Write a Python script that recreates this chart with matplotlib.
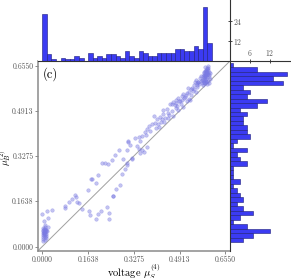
import matplotlib
matplotlib.use("Agg")
import matplotlib.pyplot as plt
import numpy as np

plt.rcParams['font.family'] = 'cmr10'
plt.rcParams['mathtext.fontset'] = 'cm'
plt.rcParams['axes.formatter.use_mathtext'] = True

# axis ticks (same on both axes)
tick_values = [0.0, 0.16375, 0.3275, 0.49125, 0.655]
tick_labels = ['0.0000', '0.1638', '0.3275', '0.4913', '0.6550']

# marginal histogram of x (37 bins, left to right)
x_bin_range = (0.0, 0.6065)
x_counts = [28, 4, 1, 0, 2, 1, 1, 3, 2, 0,
            5, 2, 3, 2, 4, 4, 3, 2, 6, 3,
            2, 6, 5, 3, 3, 5, 5, 5, 5, 7,
            7, 6, 6, 9, 7, 32, 11]

# marginal histogram of y (40 bins, bottom to top)
y_bin_range = (0.0157, 0.6655)
y_counts = [4, 7, 12, 5, 1, 3, 7, 4, 2, 4,
            3, 2, 1, 3, 1, 1, 1, 5, 3, 2,
            5, 1, 2, 6, 5, 5, 4, 4, 5, 3,
            8, 11, 5, 6, 4, 16, 13, 17, 8, 1]

# scatter points (mu_S^(4), mu_B^(2))
px = [0.004, 0.010, 0.002, 0.013, 0.003, 0.008, 0.012, 0.001, 0.006, 0.015,
      0.009, 0.002, 0.005, 0.007, 0.010, 0.012, 0.004, 0.008, 0.014, 0.001,
      0.006, 0.011, 0.003, 0.009, 0.011, 0.005, 0.000, 0.006,
      0.018, 0.020, 0.020, 0.017, 0.035,
      0.080, 0.080, 0.094, 0.105, 0.116, 0.120, 0.124, 0.133, 0.143,
      0.165, 0.168, 0.169, 0.175, 0.177, 0.192, 0.192,
      0.199, 0.201, 0.210, 0.214, 0.226,
      0.231, 0.235, 0.240, 0.240, 0.250, 0.252, 0.254, 0.261,
      0.265, 0.274, 0.278, 0.288, 0.286,
      0.296, 0.306, 0.304, 0.304, 0.302, 0.308,
      0.320, 0.314, 0.322, 0.332, 0.340,
      0.345, 0.345, 0.350, 0.350, 0.356, 0.356,
      0.362, 0.368, 0.374, 0.374, 0.370,
      0.383, 0.386, 0.392, 0.398, 0.404, 0.408,
      0.411, 0.415, 0.418, 0.422, 0.424,
      0.427, 0.431, 0.433, 0.439, 0.437,
      0.445, 0.451, 0.457, 0.448, 0.454,
      0.463, 0.463, 0.469, 0.469, 0.473,
      0.477, 0.480, 0.483, 0.487, 0.485, 0.489, 0.479,
      0.493, 0.499, 0.505, 0.496, 0.501, 0.503, 0.507,
      0.511, 0.517, 0.521, 0.523, 0.514, 0.519,
      0.529, 0.531, 0.535, 0.538, 0.526, 0.533,
      0.541, 0.546, 0.550, 0.552, 0.555, 0.544, 0.548, 0.553, 0.556,
      0.558, 0.564, 0.570, 0.561, 0.566, 0.568, 0.572,
      0.592, 0.594, 0.596, 0.593, 0.598, 0.595, 0.600, 0.592, 0.597, 0.601, 0.594,
      0.576, 0.580, 0.584, 0.588, 0.578, 0.586, 0.582,
      0.575, 0.579, 0.583, 0.587, 0.589, 0.581, 0.577,
      0.576, 0.580, 0.584, 0.588, 0.578, 0.582, 0.586, 0.589, 0.585, 0.579, 0.583, 0.587,
      0.581, 0.585, 0.588, 0.583, 0.587, 0.589]
py = [0.020, 0.024, 0.028, 0.030, 0.034, 0.036, 0.038, 0.041, 0.043, 0.045,
      0.047, 0.049, 0.050, 0.052, 0.053, 0.055, 0.056, 0.058, 0.059, 0.060,
      0.062, 0.063, 0.067, 0.069, 0.077, 0.093, 0.119, 0.048,
      0.057, 0.071, 0.102, 0.127, 0.132,
      0.146, 0.140, 0.162, 0.172, 0.188, 0.179, 0.162, 0.158, 0.134,
      0.205, 0.128, 0.113, 0.243, 0.245, 0.231, 0.101,
      0.258, 0.119, 0.128, 0.304, 0.304,
      0.142, 0.300, 0.122, 0.098, 0.312, 0.183, 0.181, 0.332,
      0.208, 0.348, 0.222, 0.315, 0.262,
      0.281, 0.377, 0.348, 0.303, 0.294, 0.383,
      0.318, 0.366, 0.322, 0.393, 0.365,
      0.395, 0.354, 0.339, 0.383, 0.401, 0.348,
      0.342, 0.416, 0.359, 0.425, 0.405,
      0.437, 0.419, 0.443, 0.472, 0.448, 0.430,
      0.460, 0.445, 0.432, 0.470, 0.452,
      0.460, 0.493, 0.478, 0.466, 0.450,
      0.496, 0.464, 0.514, 0.482, 0.475,
      0.516, 0.490, 0.523, 0.472, 0.511,
      0.500, 0.520, 0.508, 0.537, 0.495, 0.526, 0.531,
      0.528, 0.543, 0.552, 0.515, 0.530, 0.505, 0.538,
      0.540, 0.555, 0.575, 0.535, 0.548, 0.525,
      0.532, 0.571, 0.573, 0.564, 0.560, 0.548,
      0.583, 0.594, 0.559, 0.591, 0.585, 0.570, 0.602, 0.578, 0.596,
      0.597, 0.611, 0.603, 0.588, 0.598, 0.618, 0.592,
      0.645, 0.638, 0.630, 0.625, 0.620, 0.612, 0.606, 0.600, 0.592, 0.628, 0.652,
      0.586, 0.590, 0.594, 0.588, 0.597, 0.599, 0.592,
      0.603, 0.608, 0.612, 0.605, 0.614, 0.601, 0.615,
      0.618, 0.622, 0.626, 0.630, 0.628, 0.617, 0.620, 0.624, 0.632, 0.631, 0.619, 0.627,
      0.636, 0.640, 0.645, 0.648, 0.635, 0.642]

lim = (-0.0164, 0.6714)
bar_color = '#3b3bf2'
bar_edge = '#1c1c7a'
tick_color = '#555555'

fig = plt.figure(figsize=(2.91, 2.78), dpi=100)
left, bottom, width, height = 0.1296, 0.097, 0.6608, 0.6836
ax = fig.add_axes([left, bottom, width, height])
ax_top = fig.add_axes([left, bottom + height, width, 1 - bottom - height])
ax_right = fig.add_axes([left + width, bottom, 1 - left - width, height])

# main scatter
ax.plot(lim, lim, color='#a0a0a0', lw=0.7, zorder=1)
ax.scatter(px, py, s=6.5, color='#7a7ae2', alpha=0.45, linewidths=0.4,
           edgecolors='#7a7ae2', zorder=2)
ax.set_xlim(lim)
ax.set_ylim(lim)
ax.set_xticks(tick_values)
ax.set_xticklabels(tick_labels)
ax.set_yticks(tick_values)
ax.set_yticklabels(tick_labels)
ax.tick_params(labelsize=5.5, length=2, width=0.6, pad=1,
               colors='#777777', labelcolor=tick_color)
for side in ['top', 'right']:
    ax.spines[side].set_visible(False)
for side in ['left', 'bottom']:
    ax.spines[side].set_color('#8a8a8a')
    ax.spines[side].set_linewidth(1.1)
ax.set_xlabel(r'voltage $\mu_S^{(4)}$', fontsize=7.5)
ax.xaxis.set_label_coords(0.5, -0.058)
ax.set_ylabel(r'$\mu_B^{(2)}$', fontsize=7)
ax.yaxis.set_label_coords(-0.128, 0.49)
ax.text(0.026, 0.965, '(c)', transform=ax.transAxes, ha='left', va='top', fontsize=9)

# top marginal histogram
x_edges = np.linspace(x_bin_range[0], x_bin_range[1], len(x_counts) + 1)
ax_top.bar(x_edges[:-1], x_counts, width=np.diff(x_edges), align='edge',
           color=bar_color, edgecolor=bar_edge, linewidth=0.4)
ax_top.set_xlim(lim)
ax_top.set_ylim(0, 36.3)
ax_top.set_xticks([])
ax_top.yaxis.tick_right()
ax_top.set_yticks([12, 24])
ax_top.tick_params(axis='y', direction='inout', length=3, width=0.5, pad=1,
                   labelsize=5.5, labelcolor=tick_color)
for side in ['top', 'left']:
    ax_top.spines[side].set_visible(False)
for side in ['bottom', 'right']:
    ax_top.spines[side].set_linewidth(0.8)
    ax_top.spines[side].set_color('#333333')

# right marginal histogram
y_edges = np.linspace(y_bin_range[0], y_bin_range[1], len(y_counts) + 1)
ax_right.barh(y_edges[:-1], y_counts, height=np.diff(y_edges), align='edge',
              color=bar_color, edgecolor=bar_edge, linewidth=0.4)
ax_right.set_ylim(lim)
ax_right.set_xlim(0, 18.3)
ax_right.set_yticks([])
ax_right.xaxis.tick_top()
ax_right.set_xticks([6, 12])
ax_right.tick_params(axis='x', direction='inout', length=3, width=0.5, pad=1,
                     labelsize=5.5, labelcolor=tick_color)
for side in ['bottom', 'right']:
    ax_right.spines[side].set_visible(False)
for side in ['top', 'left']:
    ax_right.spines[side].set_linewidth(0.8)
    ax_right.spines[side].set_color('#333333')

fig.savefig('out.png', dpi=100)
